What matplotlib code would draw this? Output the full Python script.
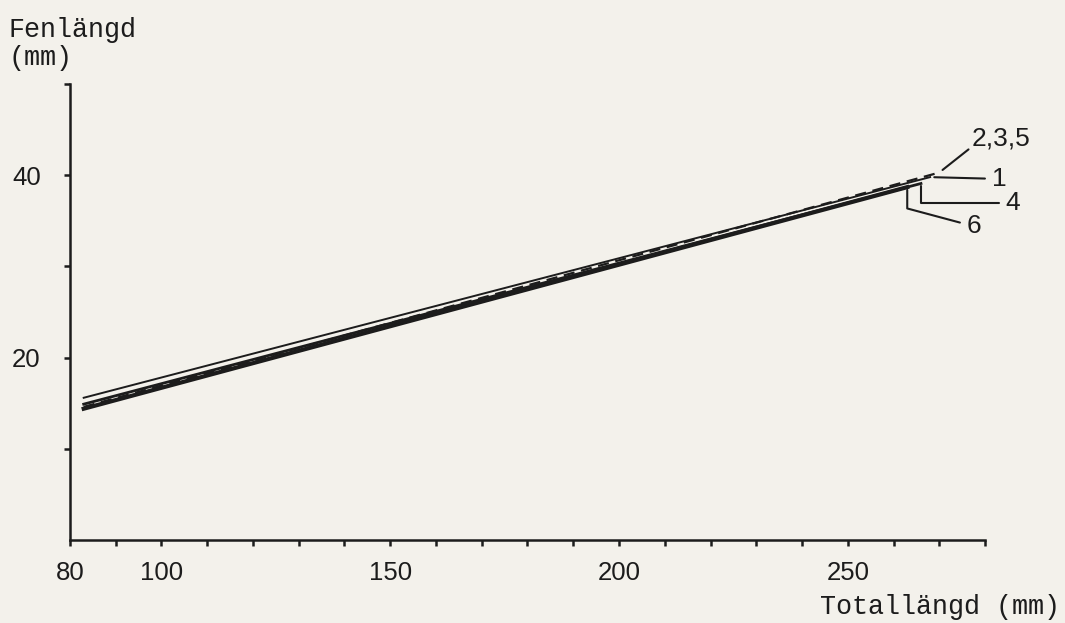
import matplotlib.pyplot as plt

# regression lines fin length vs total length
groups = ["1", "2,3,5", "4", "6"]
x_start = [83, 83, 83, 83]
x_end = [268, 270, 266, 263]
fin_start = [15.6, 14.6, 14.9, 14.4]
fin_end = [39.8, 40.3, 39.1, 38.7]

x_ticks = list(range(80, 290, 10))
x_labels = ["80", "100", "150", "200", "250"]
y_ticks = [10, 20, 30, 40, 50]
y_labels = ["", "20", "", "40", ""]

paper = "#f3f1eb"
ink = "#1c1c1c"
mono = "Liberation Mono"
sans = "Liberation Sans"

fig = plt.figure(figsize=(10.65, 6.23), dpi=100, facecolor=paper)
ax = fig.add_axes([0.0657, 0.1332, 0.8592, 0.7318], facecolor=paper)

styles = {
    "1": dict(lw=1.4, ls="-"),
    "2,3,5": dict(lw=1.6, ls=(0, (5, 3))),
    "4": dict(lw=2.0, ls="-"),
    "6": dict(lw=3.0, ls="-"),
}
for g, x0, x1, y0, y1 in zip(groups, x_start, x_end, fin_start, fin_end):
    ax.plot([x0, x1], [y0, y1], color=ink, **styles[g])

ax.set_xlim(80, 280)
ax.set_ylim(0, 50)
for s in ["top", "right"]:
    ax.spines[s].set_visible(False)
for s in ["left", "bottom"]:
    ax.spines[s].set_linewidth(1.8)
    ax.spines[s].set_color(ink)

ax.set_xticks(x_ticks)
ax.set_xticklabels([str(t) if str(t) in x_labels else "" for t in x_ticks],
                   fontsize=18.5, fontfamily=sans, color=ink)
ax.set_yticks(y_ticks)
ax.set_yticklabels(y_labels, fontsize=18.5, fontfamily=sans, color=ink)
ax.tick_params(axis="x", direction="out", length=4, width=1.8, color=ink,
               pad=11)
ax.tick_params(axis="y", direction="out", length=4, width=1.8, color=ink,
               pad=17)

# labels at the line ends with leader lines
ends = dict(zip(groups, zip(x_end, fin_end)))
ann = dict(fontsize=19, family=sans, color=ink, annotation_clip=False)
ax.annotate("2,3,5", xy=ends["2,3,5"], xytext=(277.0, 44.0), va="center",
            ha="left", arrowprops=dict(arrowstyle="-", color=ink, lw=1.5,
                                       shrinkA=0, shrinkB=3,
                                       relpos=(0.0, 0.15)), **ann)
ax.annotate("1", xy=ends["1"], xytext=(281.5, 39.6), va="center", ha="left",
            arrowprops=dict(arrowstyle="-", color=ink, lw=1.5,
                            shrinkA=3, shrinkB=3), **ann)
ax.annotate("4", xy=ends["4"], xytext=(284.5, 37.0), va="center", ha="left",
            arrowprops=dict(arrowstyle="-", color=ink, lw=1.5, shrinkA=3,
                            shrinkB=2,
                            connectionstyle="angle,angleA=0,angleB=90,rad=0"),
            **ann)
ax.annotate("6", xy=ends["6"], xytext=(276.0, 34.4), va="center", ha="left",
            arrowprops=dict(arrowstyle="-", color=ink, lw=1.5, shrinkA=3,
                            shrinkB=2,
                            connectionstyle="angle,angleA=-15,angleB=90,rad=0"),
            **ann)

fig.text(0.008, 0.952, "Fenlängd", family=mono, fontsize=19.3, color=ink,
         va="center", ha="left")
fig.text(0.008, 0.907, "(mm)", family=mono, fontsize=19.3, color=ink,
         va="center", ha="left")
fig.text(0.995, 0.025, "Totallängd (mm)", family=mono, fontsize=19.3,
         color=ink, va="center", ha="right")

fig.savefig("out.png", dpi=100, facecolor=paper)
